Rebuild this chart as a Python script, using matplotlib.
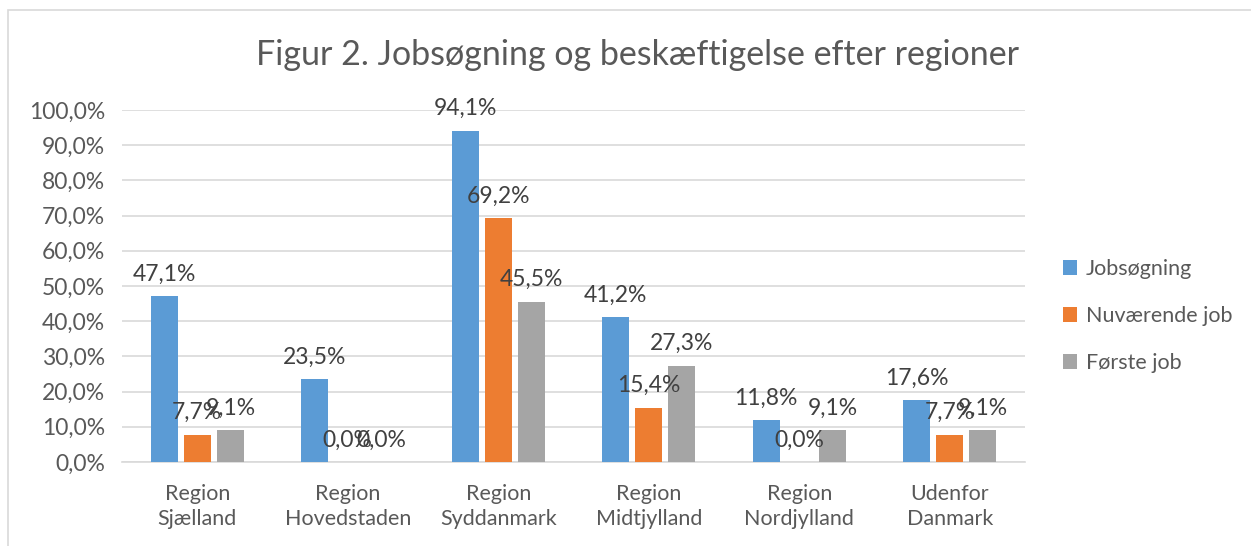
import matplotlib.pyplot as plt
import numpy as np
from matplotlib.patches import Rectangle

categories = ["Region\nSjælland", "Region\nHovedstaden", "Region\nSyddanmark",
              "Region\nMidtjylland", "Region\nNordjylland", "Udenfor\nDanmark"]
series_names = ["Jobsøgning", "Nuværende job", "Første job"]
jobsoegning = [47.1, 23.5, 94.1, 41.2, 11.8, 17.6]
nuvaerende = [7.7, 0.0, 69.2, 15.4, 0.0, 7.7]
foerste = [9.1, 0.0, 45.5, 27.3, 9.1, 9.1]
colors = ["#5B9BD5", "#ED7D31", "#A5A5A5"]

plt.rcParams["font.family"] = ["Lato", "DejaVu Sans"]
text_col = "#595959"

W, H = 1251, 546
fig = plt.figure(figsize=(W / 100, H / 100), dpi=100)

# outer chart border (cropped at right/bottom)
fig.patches.append(Rectangle((8 / W, -0.1), 2.0, (H - 10) / H + 0.1,
                             transform=fig.transFigure, fill=False,
                             edgecolor="#d9d9d9", linewidth=1.2))

ax = fig.add_axes([122 / W, (H - 462) / H, (1025 - 122) / W, (462 - 110) / H])

x = np.arange(len(categories))
bw = 0.18
step = 0.22
for i, (vals, name) in enumerate(zip([jobsoegning, nuvaerende, foerste], series_names)):
    pos = x + (i - 1) * step
    ax.bar(pos, np.array(vals) / 100, width=bw, color=colors[i], label=name, zorder=3)
    for p, v in zip(pos, vals):
        ax.text(p, v / 100 + 0.033, f"{v:.1f}%".replace(".", ","), ha="center",
                va="bottom", fontsize=16.5, color="#404040", zorder=4)

ax.set_xlim(-0.5, len(categories) - 0.5)
ax.set_ylim(0, 1.0)
yt = np.arange(0, 1.01, 0.1)
ax.set_yticks(yt)
ax.set_yticklabels([f"{v * 100:.1f}%".replace(".", ",") for v in yt])
ax.set_xticks(x)
ax.set_xticklabels(categories, linespacing=1.3)
ax.tick_params(axis="y", length=0, labelsize=16.5, labelcolor=text_col, pad=12)
ax.tick_params(axis="x", length=0, labelsize=15.5, labelcolor=text_col, pad=16)
ax.grid(axis="y", color="#d9d9d9", linewidth=1.2, zorder=0)
for s in ["top", "right", "left"]:
    ax.spines[s].set_visible(False)
ax.spines["bottom"].set_color("#d9d9d9")
ax.spines["bottom"].set_linewidth(1.2)

fig.text(637 / W, 1 - 55 / H, "Figur 2. Jobsøgning og beskæftigelse efter regioner",
         ha="center", va="center", fontsize=24.5, color=text_col)

leg = ax.legend(loc="center left", bbox_to_anchor=(1044 / W, (H - 316) / H),
                bbox_transform=fig.transFigure, frameon=False, fontsize=15.5,
                handlelength=0.65, handleheight=0.65, handletextpad=0.4,
                labelspacing=1.25, labelcolor=text_col)

fig.savefig("out.png", dpi=100)
